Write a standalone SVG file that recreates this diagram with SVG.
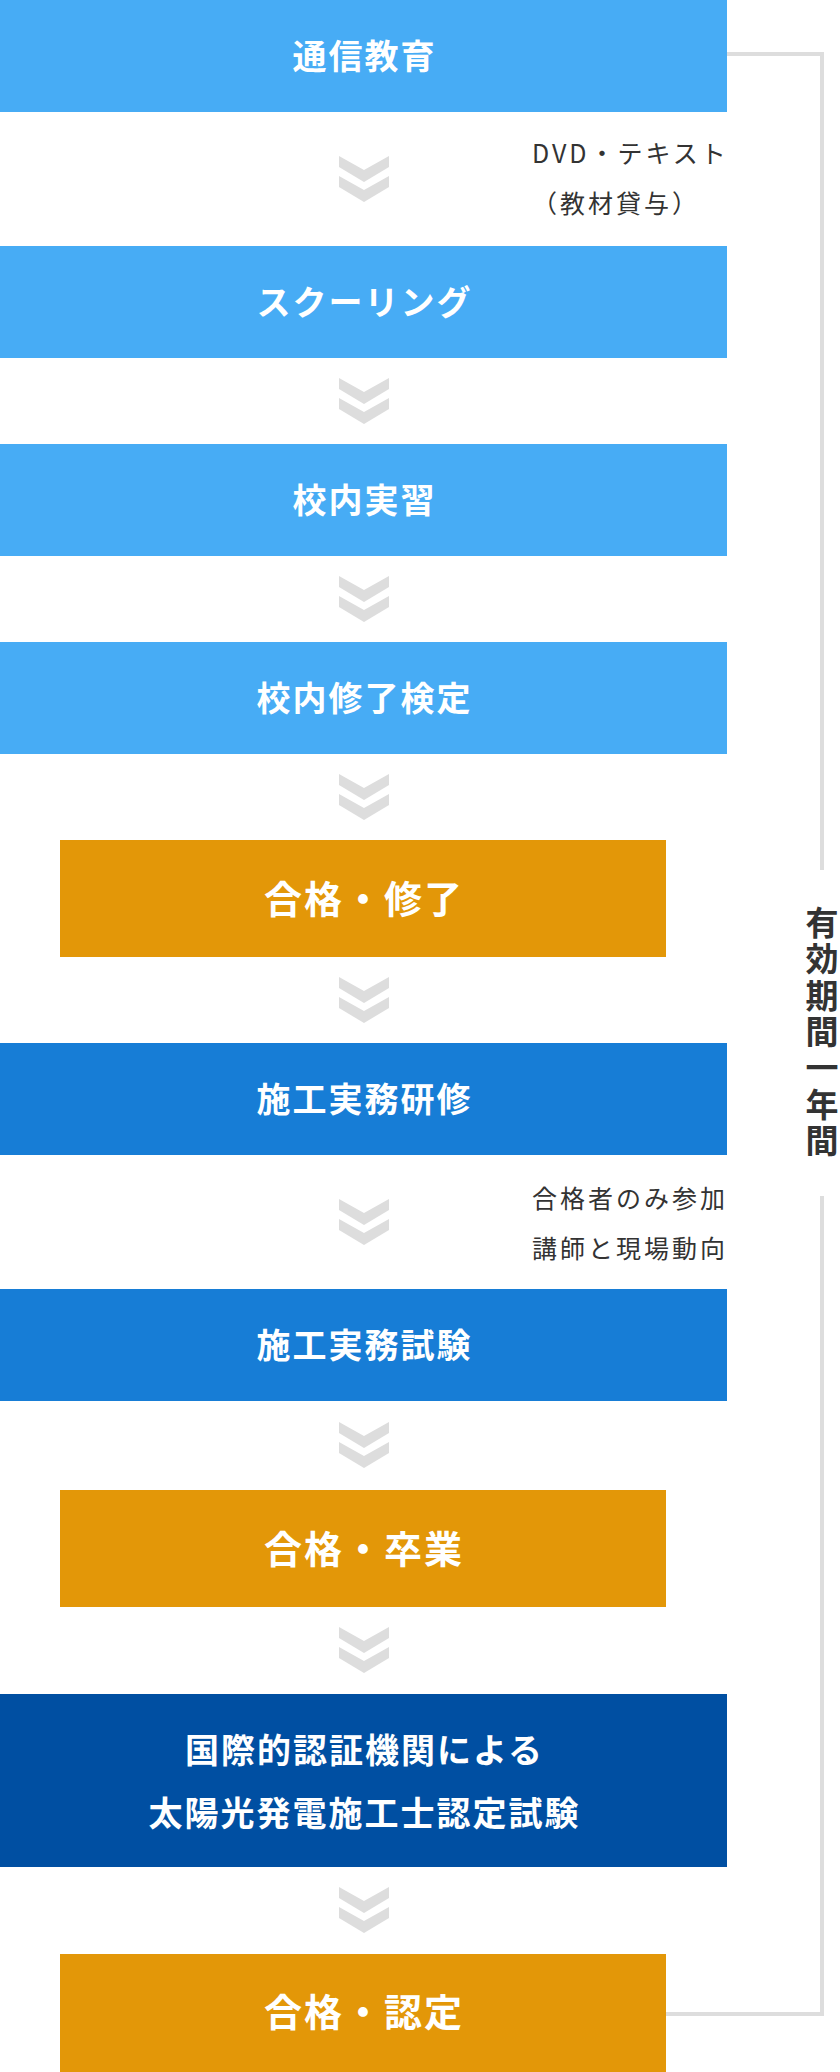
<svg xmlns="http://www.w3.org/2000/svg" width="840" height="2072" viewBox="0 0 840 2072">
<style>
.lb{fill:#47acf5}
.mb{fill:#177dd6}
.db{fill:#004fa2}
.or{fill:#e39708}
.t{font-family:"Noto Sans CJK JP","Noto Sans",sans-serif;font-weight:bold;fill:#fff;text-anchor:middle;font-size:34px;letter-spacing:2px}
.to{font-size:38px}
.n{font-family:"Noto Sans CJK JP","Noto Sans",sans-serif;font-size:25px;fill:#333;letter-spacing:3px}
.v{font-family:"Noto Sans CJK JP","Noto Sans",sans-serif;font-weight:bold;font-size:33px;fill:#333;letter-spacing:3.3px}
.line{fill:none;stroke:#ddd;stroke-width:4}
.chev{fill:#ddd}
</style>
<defs>
<path id="chev" d="M0 0L25 14L50 0V11L25 26L0 11Z M0 20L25 34L50 20V31L25 46L0 31Z"/>
</defs>
<rect width="840" height="2072" fill="#fff"/>
<g id="connectors">
<path class="line" d="M727 54H822V870"/>
<path class="line" d="M822 1196V2014H666"/>
<g class="chev">
<use href="#chev" x="339" y="156"/>
<use href="#chev" x="339" y="378"/>
<use href="#chev" x="339" y="576"/>
<use href="#chev" x="339" y="774"/>
<use href="#chev" x="339" y="977"/>
<use href="#chev" x="339" y="1199"/>
<use href="#chev" x="339" y="1422"/>
<use href="#chev" x="339" y="1627"/>
<use href="#chev" x="339" y="1887"/>
</g>
</g>
<g id="n1"><rect class="lb" x="0" y="0" width="727" height="112"/><text class="t" x="364.5" y="69">通信教育</text></g>
<g id="note1"><text class="n" x="532" y="163">DVD・テキスト</text><text class="n" x="532" y="213">（教材貸与）</text></g>
<g id="n2"><rect class="lb" x="0" y="246" width="727" height="112"/><text class="t" x="364.5" y="315">スクーリング</text></g>
<g id="n3"><rect class="lb" x="0" y="444" width="727" height="112"/><text class="t" x="364.5" y="513">校内実習</text></g>
<g id="n4"><rect class="lb" x="0" y="642" width="727" height="112"/><text class="t" x="364.5" y="711">校内修了検定</text></g>
<g id="n5"><rect class="or" x="60" y="840" width="606" height="117"/><text class="t to" x="364" y="913">合格・修了</text></g>
<g id="n6"><rect class="mb" x="0" y="1043" width="727" height="112"/><text class="t" x="364.5" y="1112">施工実務研修</text></g>
<g id="note2"><text class="n" x="532" y="1208">合格者のみ参加</text><text class="n" x="532" y="1258">講師と現場動向</text></g>
<g id="n7"><rect class="mb" x="0" y="1289" width="727" height="112"/><text class="t" x="364.5" y="1358">施工実務試験</text></g>
<g id="n8"><rect class="or" x="60" y="1490" width="606" height="117"/><text class="t to" x="364" y="1563">合格・卒業</text></g>
<g id="n9"><rect class="db" x="0" y="1694" width="727" height="173"/><text class="t" x="364.5" y="1763">国際的認証機関による</text><text class="t" x="364.5" y="1826">太陽光発電施工士認定試験</text></g>
<g id="n10"><rect class="or" x="60" y="1954" width="606" height="118"/><text class="t to" x="364" y="2026">合格・認定</text></g>
<g id="period"><text class="v" x="822" y="906" writing-mode="vertical-rl">有効期間一年間</text></g>
</svg>
